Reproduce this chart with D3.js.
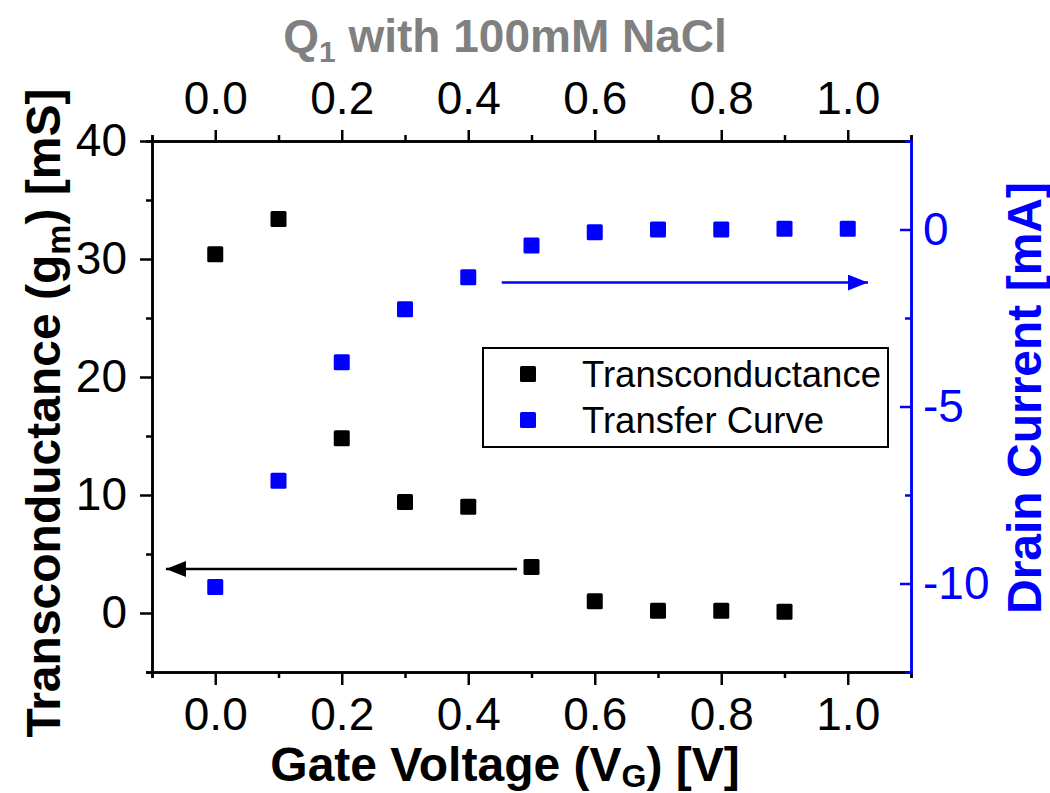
<!DOCTYPE html>
<html>
<head>
<meta charset="utf-8">
<script src="https://cdn.jsdelivr.net/npm/d3@7"></script>
<style>
  body { margin: 0; background: #fff; }
  text { font-family: 'Liberation Sans', Arial, sans-serif; }
</style>
</head>
<body>
<div id="chart"></div>
<script>
// data
const gateVoltage = [0, 0.1, 0.2, 0.3, 0.4, 0.5, 0.6, 0.7, 0.8, 0.9]
const transconductance = [30.4, 33.4, 14.8, 9.4, 9.0, 3.9, 1.0, 0.2, 0.2, 0.1]

const gateVoltage2 = [0, 0.1, 0.2, 0.3, 0.4, 0.5, 0.6, 0.7, 0.8, 0.9, 1.0]
const drainCurrent = [-10.1, -7.1, -3.75, -2.25, -1.35, -0.45, -0.08, 0.0, 0.0, 0.02, 0.02]

const xTicks = [0, 0.2, 0.4, 0.6, 0.8, 1.0]
const xMinor = [-0.1, 0.1, 0.3, 0.5, 0.7, 0.9, 1.1]
const yTicks = [0, 10, 20, 30, 40]
const yMinor = [-5, 5, 15, 25, 35]
const y2Ticks = [0, -5, -10]
const y2Minor = [2.5, -2.5, -7.5, -12.5]

// arrows: [x start, x end, y]
const blueArrow = [0.453, 1.032, -1.5]
const blackArrow = [0.477, -0.078, 3.73]

const width = 1050
const height = 793
const margin = { top: 141, left: 152, right: 139, bottom: 121 }
const innerW = width - margin.left - margin.right
const innerH = height - margin.top - margin.bottom

const BLUE = '#0000ff'

const svg = d3
  .select('#chart')
  .append('svg')
  .attr('width', width)
  .attr('height', height)

const defs = svg.append('defs')
;[['head-blue', BLUE], ['head-black', '#000']].forEach(([id, c]) => {
  defs
    .append('marker')
    .attr('id', id)
    .attr('viewBox', '0 0 20 16')
    .attr('refX', 20)
    .attr('refY', 8)
    .attr('markerWidth', 20)
    .attr('markerHeight', 16)
    .attr('markerUnits', 'userSpaceOnUse')
    .attr('orient', 'auto')
    .append('path')
    .attr('d', 'M0,0L20,8L0,16Z')
    .attr('fill', c)
})

const g = svg
  .append('g')
  .attr('transform', 'translate(' + margin.left + ',' + margin.top + ')')

// scales
const x = d3.scaleLinear().domain([-0.1, 1.1]).range([0, innerW])
const y = d3.scaleLinear().domain([-5, 40]).range([innerH, 0])
const y2 = d3.scaleLinear().domain([-12.5, 2.5]).range([innerH, 0])

// plain hyphen for negatives, like the original
const intFormat = d => String(d)

function styleAxis(sel, color) {
  sel.selectAll('path.domain').attr('stroke', color).attr('stroke-width', 2.5)
  sel.selectAll('.tick line').attr('stroke', color).attr('stroke-width', 2.5)
  sel
    .selectAll('.tick text')
    .attr('fill', color)
    .attr('font-size', 46)
    .attr('font-family', "'Liberation Sans', Arial, sans-serif")
}

// bottom
g.append('g')
  .attr('transform', `translate(0,${innerH})`)
  .call(d3.axisBottom(x).tickValues(xMinor).tickSize(6).tickFormat(''))
  .call(s => styleAxis(s, '#000'))
g.append('g')
  .attr('transform', `translate(0,${innerH})`)
  .call(d3.axisBottom(x).tickValues(xTicks).tickSize(13).tickSizeOuter(0).tickPadding(12).tickFormat(d3.format('.1f')))
  .call(s => styleAxis(s, '#000'))

// top
g.append('g')
  .call(d3.axisTop(x).tickValues(xMinor).tickSize(6).tickFormat(''))
  .call(s => styleAxis(s, '#000'))
g.append('g')
  .call(d3.axisTop(x).tickValues(xTicks).tickSize(11).tickSizeOuter(0).tickPadding(16).tickFormat(d3.format('.1f')))
  .call(s => styleAxis(s, '#000'))

// left
g.append('g')
  .call(d3.axisLeft(y).tickValues(yMinor).tickSize(6).tickFormat(''))
  .call(s => styleAxis(s, '#000'))
g.append('g')
  .call(d3.axisLeft(y).tickValues(yTicks).tickSize(12).tickSizeOuter(0).tickPadding(13).tickFormat(intFormat))
  .call(s => styleAxis(s, '#000'))

// right, ticks point inwards
g.append('g')
  .attr('transform', `translate(${innerW},0)`)
  .call(d3.axisRight(y2).tickValues(y2Minor).tickSize(-6).tickFormat(''))
  .call(s => styleAxis(s, BLUE))
g.append('g')
  .attr('transform', `translate(${innerW},0)`)
  .call(d3.axisRight(y2).tickValues(y2Ticks).tickSize(-11).tickSizeOuter(0).tickPadding(12).tickFormat(intFormat))
  .call(s => styleAxis(s, BLUE))

// arrows
g.append('line')
  .attr('x1', x(blueArrow[0]))
  .attr('x2', x(blueArrow[1]))
  .attr('y1', y2(blueArrow[2]))
  .attr('y2', y2(blueArrow[2]))
  .attr('stroke', BLUE)
  .attr('stroke-width', 2.5)
  .attr('marker-end', 'url(#head-blue)')

g.append('line')
  .attr('x1', x(blackArrow[0]))
  .attr('x2', x(blackArrow[1]))
  .attr('y1', y(blackArrow[2]))
  .attr('y2', y(blackArrow[2]))
  .attr('stroke', '#000')
  .attr('stroke-width', 2.5)
  .attr('marker-end', 'url(#head-black)')

// points
const size = 16
g.selectAll('.gm')
  .data(gateVoltage.map((v, i) => [v, transconductance[i]]))
  .enter()
  .append('rect')
  .attr('class', 'gm')
  .attr('x', d => x(d[0]) - size / 2)
  .attr('y', d => y(d[1]) - size / 2)
  .attr('width', size)
  .attr('height', size)
  .attr('rx', 1.5)
  .attr('fill', '#000')

g.selectAll('.id')
  .data(gateVoltage2.map((v, i) => [v, drainCurrent[i]]))
  .enter()
  .append('rect')
  .attr('class', 'id')
  .attr('x', d => x(d[0]) - size / 2)
  .attr('y', d => y2(d[1]) - size / 2)
  .attr('width', size)
  .attr('height', size)
  .attr('rx', 1.5)
  .attr('fill', BLUE)

// legend
const legend = svg.append('g').attr('transform', 'translate(483,348)')
legend
  .append('rect')
  .attr('width', 405)
  .attr('height', 99)
  .attr('fill', '#fff')
  .attr('stroke', '#000')
  .attr('stroke-width', 2)

const legendItems = [['Transconductance', '#000'], ['Transfer Curve', BLUE]]
legendItems.forEach(([label, c], i) => {
  legend
    .append('rect')
    .attr('x', 45 - size / 2)
    .attr('y', 26 + i * 46 - size / 2)
    .attr('width', size)
    .attr('height', size)
    .attr('rx', 1.5)
    .attr('fill', c)
  legend
    .append('text')
    .attr('x', 99)
    .attr('y', 39 + i * 46)
    .attr('font-size', 36.5)
    .text(label)
})

// titles
const topTitle = svg
  .append('text')
  .attr('x', 505)
  .attr('y', 52)
  .attr('text-anchor', 'middle')
  .attr('font-size', 46)
  .attr('font-weight', 'bold')
  .attr('fill', '#808080')
topTitle.append('tspan').text('Q')
topTitle.append('tspan').attr('font-size', 30).attr('dy', 10).text('1')
topTitle.append('tspan').attr('dy', -10).text(' with 100mM NaCl')

const bottomTitle = svg
  .append('text')
  .attr('x', 505)
  .attr('y', 781)
  .attr('text-anchor', 'middle')
  .attr('font-size', 48)
  .attr('font-weight', 'bold')
bottomTitle.append('tspan').text('Gate Voltage (V')
bottomTitle.append('tspan').attr('font-size', 32).attr('dy', 6).text('G')
bottomTitle.append('tspan').attr('dy', -6).text(') [V]')

const leftTitle = svg
  .append('text')
  .attr('transform', 'translate(60,413) rotate(-90)')
  .attr('text-anchor', 'middle')
  .attr('font-size', 48)
  .attr('font-weight', 'bold')
leftTitle.append('tspan').text('Transconductance (g')
leftTitle.append('tspan').attr('font-size', 34).attr('dy', 10).text('m')
leftTitle.append('tspan').attr('dy', -10).text(') [mS]')

svg
  .append('text')
  .attr('transform', 'translate(1041,398) rotate(-90)')
  .attr('text-anchor', 'middle')
  .attr('font-size', 48)
  .attr('font-weight', 'bold')
  .attr('fill', BLUE)
  .text('Drain Current [mA]')
</script>
</body>
</html>
